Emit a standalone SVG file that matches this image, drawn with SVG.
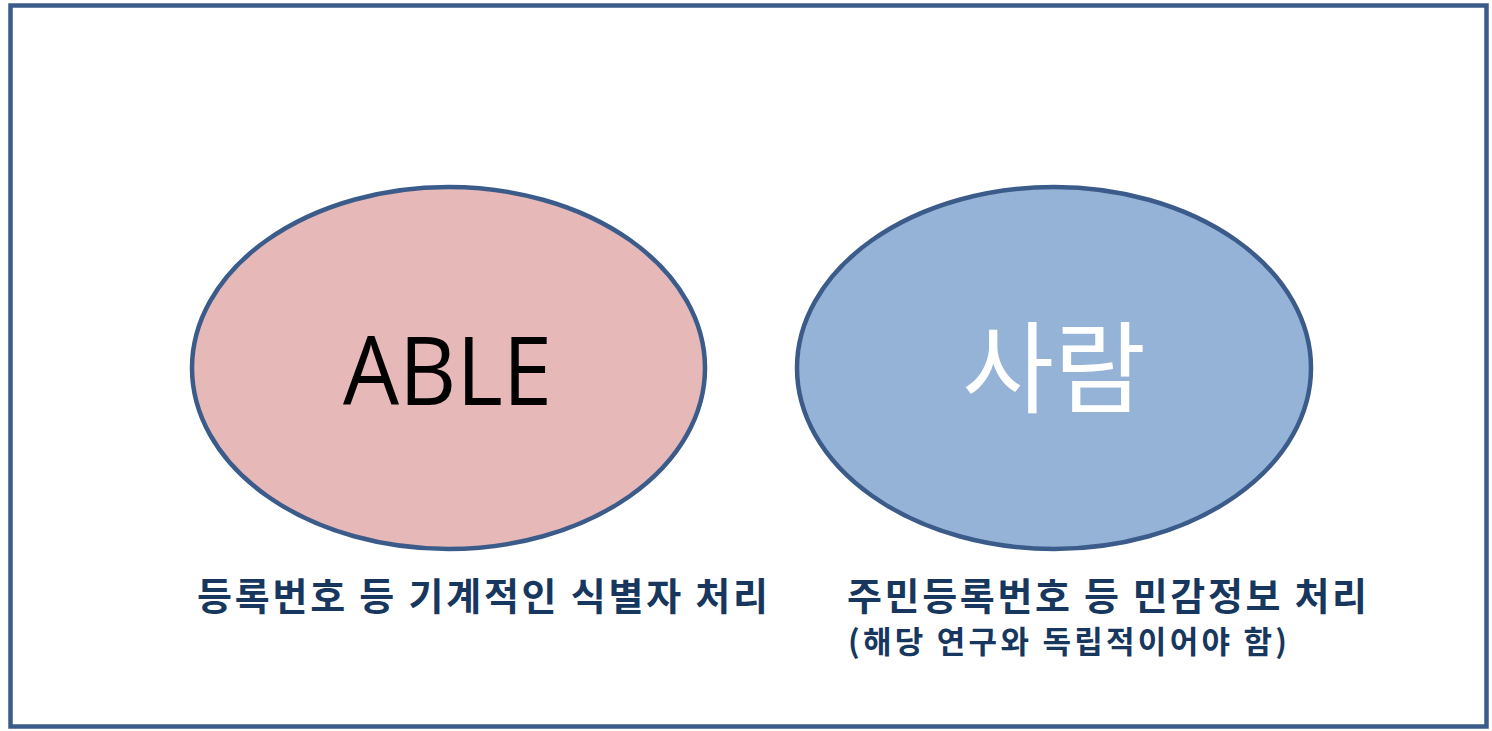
<svg xmlns="http://www.w3.org/2000/svg" width="1492" height="731" viewBox="0 0 1492 731">
<style>
.ell{stroke:#3B5C8A;stroke-width:4.5}
.lbl{font-family:"Noto Sans CJK KR","Noto Sans",sans-serif;font-weight:bold;fill:#17375E}
</style>
<rect x="0" y="0" width="1492" height="731" fill="#fff"/>
<rect x="10.5" y="5.5" width="1476" height="721" fill="#fff" stroke="#3B5C8A" stroke-width="4.5"/>
<g id="able">
<ellipse class="ell" cx="448.5" cy="368" rx="256.5" ry="181" fill="#E6B8B7"/>
<text x="343" y="405" font-family="'Open Sans','Noto Sans',sans-serif" font-size="96" fill="#000" textLength="209" lengthAdjust="spacingAndGlyphs">ABLE</text>
</g>
<g id="person">
<ellipse class="ell" cx="1054" cy="368" rx="257" ry="181" fill="#95B3D7"/>
<text x="1054" y="405" text-anchor="middle" font-family="'Noto Sans CJK KR',sans-serif" font-size="100" fill="#fff">사람</text>
</g>
<g id="label1">
<text class="lbl" x="197" y="610" font-size="38" textLength="571" lengthAdjust="spacing">등록번호 등 기계적인 식별자 처리</text>
</g>
<g id="label2">
<text class="lbl" x="847" y="610" font-size="38" textLength="520" lengthAdjust="spacing">주민등록번호 등 민감정보 처리</text>
<text class="lbl" x="848" y="653" font-size="31" textLength="439" lengthAdjust="spacing">(해당 연구와 독립적이어야 함)</text>
</g>
<g id="connectors"/>
</svg>
